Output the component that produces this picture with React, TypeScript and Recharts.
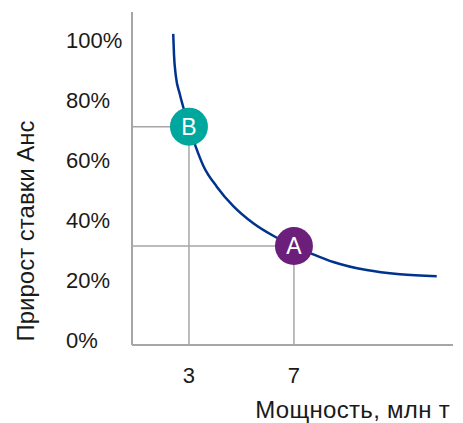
import React from 'react';
import { ComposedChart, Line, Scatter, XAxis, YAxis, ReferenceLine } from 'recharts';

const curveX = [2.40, 2.43, 2.50, 2.65, 2.76, 3.0, 3.25, 3.55, 4.06, 4.69, 5.45, 6.28, 7.0, 7.67, 8.50, 9.77, 11.04, 12.44];
const curveY = [102, 95.1, 88, 82, 78.3, 71.1, 64.6, 58.0, 51.1, 44.6, 38.9, 34.4, 31.3, 28.8, 26.0, 23.3, 21.9, 21.2];

const pointLabels = ['B', 'A'];
const pointX = [3, 7];
const pointY = [71.1, 31.3];

const xTicks = [3, 7];
const yTicks = [0, 20, 40, 60, 80, 100];

const xDomain: [number, number] = [0.83, 13.06];
const yDomain: [number, number] = [-1.67, 109.3];

const xTitle = 'Мощность, млн т';
const yTitle = 'Прирост ставки Анс';

const curveData = curveX.map((x, i) => ({ x, y: curveY[i] }));
const pointData = pointX.map((x, i) => ({ x, y: pointY[i], label: pointLabels[i] }));

const pointColors: Record<string, string> = { A: '#6B1F7B', B: '#00A79D' };

const FONT = '"Liberation Sans", Arial, sans-serif';
const TEXT = '#1a1a1a';
const GRID = '#A6A6A6';

const PointShape = (props: any) => {
  const { cx, cy, payload } = props;
  return (
    <g>
      <circle cx={cx} cy={cy} r={19} fill={pointColors[payload.label]} />
      <text x={cx} y={cy + 8} textAnchor="middle" fill="#fff" fontSize={23} fontFamily={FONT}>
        {payload.label}
      </text>
    </g>
  );
};

const YTick = (props: any) => {
  const { y, payload } = props;
  return (
    <text x={66} y={y + 8} textAnchor="start" fill={TEXT} fontSize={22} fontFamily={FONT}>
      {`${payload.value}%`}
    </text>
  );
};

const XTick = (props: any) => {
  const { x, payload } = props;
  return (
    <text x={x} y={383} textAnchor="middle" fill={TEXT} fontSize={22} fontFamily={FONT}>
      {payload.value}
    </text>
  );
};

export default function App() {
  return (
    <div style={{ position: 'absolute', left: 0, top: 0, width: 463, height: 423, background: '#fff' }}>
      <ComposedChart width={463} height={423} margin={{ top: 12, right: 10, bottom: 0, left: 0 }}>
        <XAxis
          type="number"
          dataKey="x"
          domain={xDomain}
          ticks={xTicks}
          tick={<XTick />}
          tickLine={false}
          axisLine={{ stroke: GRID, strokeWidth: 2 }}
          height={78}
          allowDataOverflow
          label={{
            content: () => (
              <text x={450} y={418} textAnchor="end" fill={TEXT} fontSize={24} fontFamily={FONT} letterSpacing={0.3}>
                {xTitle}
              </text>
            ),
          }}
        />
        <YAxis
          type="number"
          dataKey="y"
          domain={yDomain}
          ticks={yTicks}
          tick={<YTick />}
          tickLine={false}
          axisLine={{ stroke: GRID, strokeWidth: 2 }}
          width={132}
          allowDataOverflow
          label={{
            content: () => (
              <text
                x={34}
                y={231}
                transform="rotate(-90 34 231)"
                textAnchor="middle"
                fill={TEXT}
                fontSize={24}
                fontFamily={FONT}
              >
                {yTitle}
              </text>
            ),
          }}
        />
        {pointData.map((p) => (
          <ReferenceLine
            key={`h${p.label}`}
            segment={[{ x: xDomain[0], y: p.y }, { x: p.x, y: p.y }]}
            stroke={GRID}
            strokeWidth={1.5}
          />
        ))}
        {pointData.map((p) => (
          <ReferenceLine
            key={`v${p.label}`}
            segment={[{ x: p.x, y: yDomain[0] }, { x: p.x, y: p.y }]}
            stroke={GRID}
            strokeWidth={1.5}
          />
        ))}
        <Line
          data={curveData}
          dataKey="y"
          type="monotone"
          stroke="#00338D"
          strokeWidth={2.5}
          dot={false}
          activeDot={false}
          isAnimationActive={false}
        />
        <Scatter data={pointData} dataKey="y" shape={<PointShape />} isAnimationActive={false} />
      </ComposedChart>
    </div>
  );
}
